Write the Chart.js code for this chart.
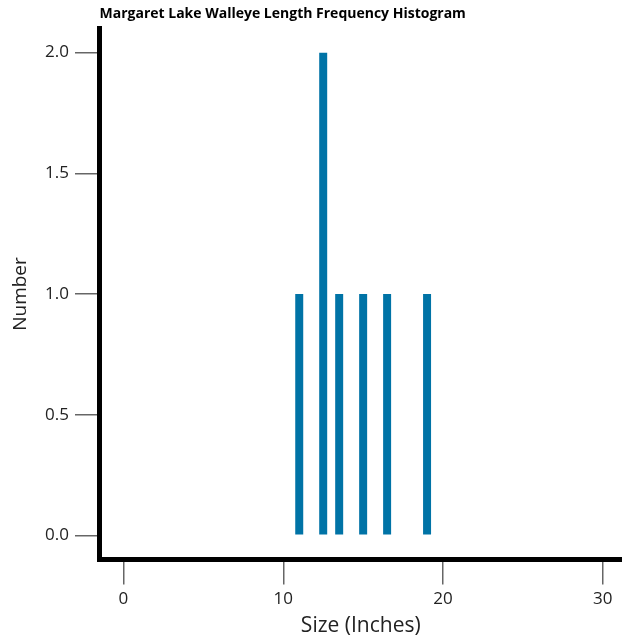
<!DOCTYPE html>
<html>
<head>
<meta charset="utf-8">
<script src="https://cdn.jsdelivr.net/npm/chart.js@4/dist/chart.umd.min.js"></script>
<style>
  html, body { margin: 0; padding: 0; background: #ffffff; }
  #wrap { width: 622px; height: 639px; }
</style>
</head>
<body>
<div id="wrap"><canvas id="c" width="622" height="639"></canvas></div>
<script>
// Data
const titleText = 'Margaret Lake Walleye Length Frequency Histogram';
const xTitle = 'Size (Inches)';
const yTitle = 'Number';
const lengths = [11, 12.5, 13.5, 15, 16.5, 19];   // bar centres, inches
const counts  = [1, 2, 1, 1, 1, 1];               // number of fish
const xTicks = [0, 10, 20, 30];
const yTicks = [0, 0.5, 1, 1.5, 2];

Chart.defaults.font.family = "'Open Sans', 'DejaVu Sans', sans-serif";

new Chart(document.getElementById('c'), {
  type: 'bar',
  data: {
    datasets: [{
      data: lengths.map((l, i) => ({ x: l, y: counts[i] })),
      backgroundColor: '#0073a6',
      borderWidth: 0,
      categoryPercentage: 1.0,
      barPercentage: 0.5
    }]
  },
  options: {
    responsive: false,
    animation: false,
    layout: { padding: 0 },
    plugins: {
      legend: { display: false },
      tooltip: { enabled: false },
      title: {
        display: true,
        text: titleText,
        align: 'start',
        fullSize: false,
        color: '#000',
        font: { size: 14, weight: 'bold' },
        padding: { top: 6, bottom: 5.7 }
      }
    },
    scales: {
      x: {
        type: 'linear',
        offset: false,
        min: -1.5,
        max: 31.2,
        afterFit: s => { s.height = 79.5; },
        afterBuildTicks: s => { s.ticks = xTicks.map(v => ({ value: v })); },
        ticks: { stepSize: 10, includeBounds: false, color: '#222', font: { size: 17 }, padding: 4, maxRotation: 0 },
        grid: { display: true, offset: false, drawOnChartArea: false, drawTicks: true, tickLength: 25, color: '#666', lineWidth: 1.5 },
        border: { display: true, color: '#000', width: 5 },
        title: { display: true, text: xTitle, color: '#222', font: { size: 21 }, padding: { top: 0, bottom: 0 } }
      },
      y: {
        type: 'linear',
        min: -0.1,
        max: 2.1,
        afterFit: s => { s.width = 99.5; },
        afterBuildTicks: s => { s.ticks = yTicks.map(v => ({ value: v })); },
        ticks: { stepSize: 0.5, includeBounds: false, color: '#222', font: { size: 17 }, padding: 6,
                 callback: v => Number(v).toFixed(1) },
        grid: { display: true, drawOnChartArea: false, drawTicks: true, tickLength: 24.5, color: '#666', lineWidth: 1.5 },
        border: { display: true, color: '#000', width: 5 },
        title: { display: true, text: yTitle, color: '#222', font: { size: 19 }, padding: { top: 9, bottom: 0 } }
      }
    }
  }
});
</script>
</body>
</html>
